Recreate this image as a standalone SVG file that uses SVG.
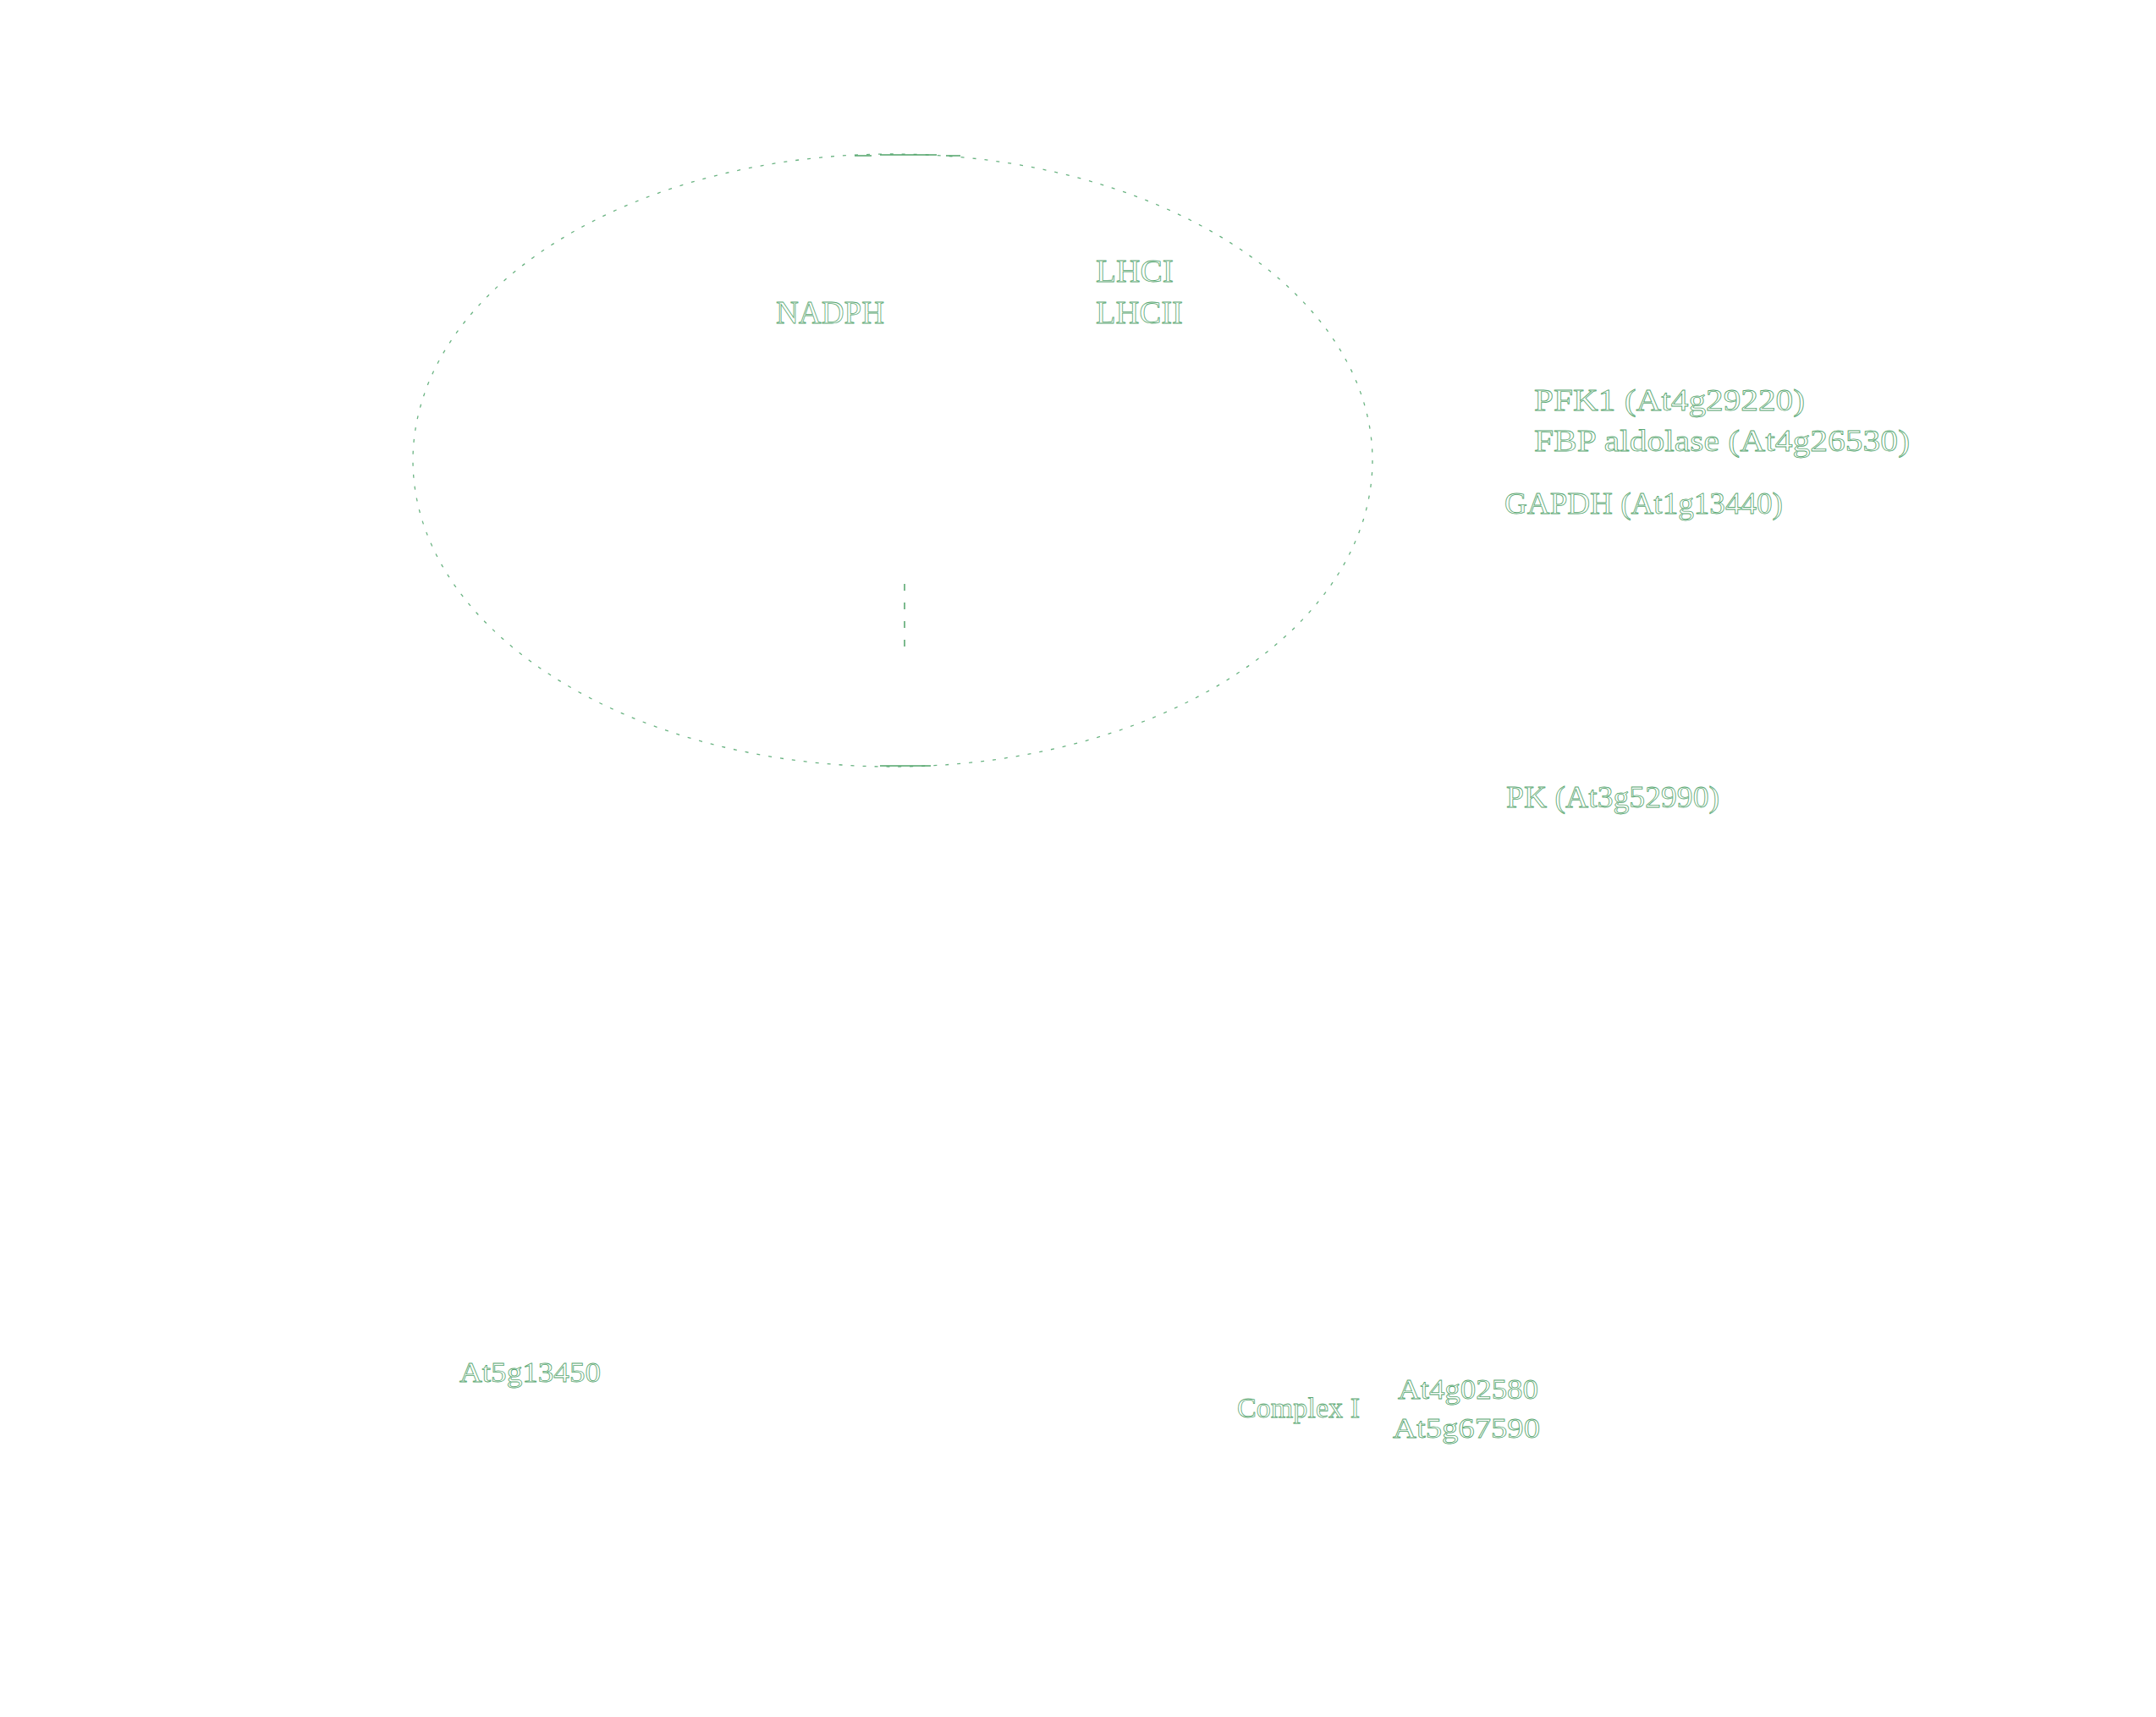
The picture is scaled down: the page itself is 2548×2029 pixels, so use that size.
<svg xmlns="http://www.w3.org/2000/svg" width="2548" height="2029" viewBox="0 0 2548 2029">
<style>
.t{font-family:"Liberation Serif","Times New Roman",serif;fill:none;stroke:#5aa872;stroke-width:0.8}
.ell{fill:none;stroke:#6ab382;stroke-width:1.3;stroke-dasharray:4 10}
.dash{fill:none;stroke:#52a46a;stroke-width:1.5;stroke-dasharray:8 14}
</style>
<rect width="2548" height="2029" fill="#ffffff"/>
<g id="chloroplast">
<ellipse class="ell" cx="1055" cy="544" rx="567" ry="362"/>
<path d="M1010 184 H1030 M1040 183 H1107 M1118 184 H1135" stroke="#52a46a" stroke-width="1.5" fill="none"/>
<path d="M1040 905 H1100" stroke="#52a46a" stroke-width="1.5" fill="none"/>
</g>
<g id="connectors">
<line class="dash" x1="1069" y1="690" x2="1069" y2="772"/>
</g>
<g id="nadph"><text class="t" x="917" y="382" font-size="37" textLength="128" lengthAdjust="spacingAndGlyphs">NADPH</text></g>
<g id="lhci"><text class="t" x="1295" y="333" font-size="37" textLength="92" lengthAdjust="spacingAndGlyphs">LHCI</text></g>
<g id="lhcii"><text class="t" x="1295" y="382" font-size="37" textLength="103" lengthAdjust="spacingAndGlyphs">LHCII</text></g>
<g id="pfk1"><text class="t" x="1813" y="485" font-size="36" textLength="320" lengthAdjust="spacingAndGlyphs">PFK1 (At4g29220)</text></g>
<g id="fbp"><text class="t" x="1813" y="533" font-size="36" textLength="444" lengthAdjust="spacingAndGlyphs">FBP aldolase (At4g26530)</text></g>
<g id="gapdh"><text class="t" x="1778" y="607" font-size="35" textLength="329" lengthAdjust="spacingAndGlyphs">GAPDH (At1g13440)</text></g>
<g id="pk"><text class="t" x="1780" y="954" font-size="35" textLength="252" lengthAdjust="spacingAndGlyphs">PK (At3g52990)</text></g>
<g id="atp"><text class="t" x="543" y="1633" font-size="34" textLength="167" lengthAdjust="spacingAndGlyphs">At5g13450</text></g>
<g id="complex1">
<text class="t" x="1462" y="1675" font-size="34" textLength="145" lengthAdjust="spacingAndGlyphs">Complex I</text>
<text class="t" x="1652" y="1653" font-size="34" textLength="166" lengthAdjust="spacingAndGlyphs">At4g02580</text>
<text class="t" x="1646" y="1699" font-size="34" textLength="174" lengthAdjust="spacingAndGlyphs">At5g67590</text>
</g>
</svg>
